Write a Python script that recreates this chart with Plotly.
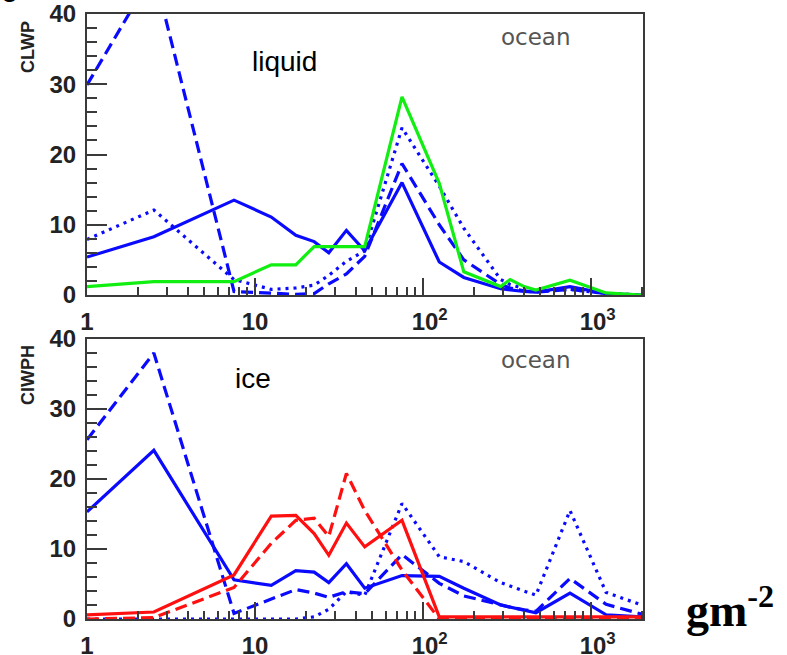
import math
import plotly.graph_objects as go

W, H = 787, 655

# ---------------- data ----------------
x_bins = [1, 2.5, 7.5, 12.5, 17.5, 22.5, 27.5, 35, 45, 75, 125, 175, 290, 330, 400, 470, 750, 1230, 2000]

# liquid (CLWP), ocean
clwp_blue_solid = [5.4, 8.3, 13.5, 11.1, 8.5, 7.6, 6.0, 9.2, 6.3, 16.0, 4.7, 2.5, 0.9, 0.7, 0.5, 0.4, 1.2, 0.2, 0.0]
clwp_blue_dash = [29.9, 46.0, 0.5, 0.2, 0.1, 0.2, 1.6, 3.0, 5.5, 18.7, 10.0, 5.0, 1.5, 1.0, 0.6, 0.4, 0.8, 0.2, 0.0]
clwp_blue_dot = [7.9, 12.1, 2.2, 0.8, 1.0, 1.4, 2.8, 4.8, 6.3, 23.8, 15.5, 9.5, 2.2, 1.5, 0.9, 0.5, 0.8, 0.2, 0.0]
clwp_green = [1.2, 1.9, 1.9, 4.3, 4.3, 6.9, 6.9, 6.9, 6.9, 28.2, 15.9, 3.3, 1.2, 2.2, 1.2, 0.7, 2.1, 0.3, 0.0]

# ice (CIWPH), ocean
ciwp_blue_solid = [15.3, 24.1, 5.6, 4.8, 6.9, 6.7, 5.2, 7.9, 4.4, 6.2, 6.1, 4.4, 2.0, 1.7, 1.3, 0.9, 3.7, 0.6, 0.3]
ciwp_blue_dash = [25.6, 38.0, 0.8, 2.8, 4.2, 3.7, 3.1, 3.9, 3.6, 9.2, 5.1, 3.3, 2.0, 1.7, 1.3, 1.1, 5.8, 2.1, 0.7]
ciwp_blue_dot = [0.0, 0.0, 0.0, 0.0, 0.0, 0.3, 1.4, 3.9, 3.4, 16.5, 8.9, 8.2, 5.2, 4.7, 4.0, 3.4, 15.5, 3.8, 2.0]
ciwp_red_solid = [0.6, 1.0, 6.3, 14.7, 14.8, 12.2, 9.1, 13.7, 10.3, 14.1, 0.3, 0.3, 0.3, 0.3, 0.3, 0.3, 0.3, 0.3, 0.3]
ciwp_red_dash = [0.0, 0.2, 4.5, 10.8, 14.1, 14.4, 11.8, 20.8, 15.5, 7.0, 0.0, 0.0, 0.0, 0.0, 0.0, 0.0, 0.0, 0.0, 0.0]

x_tickvals = [1, 10, 100, 1000]
x_ticktext = ["1", "10", "&nbsp;&nbsp;10<sup>2</sup>", "&nbsp;&nbsp;10<sup>3</sup>"]
y_tickvals = [0, 10, 20, 30, 40]
x_minor = [v * m for v in (1, 10, 100, 1000) for m in range(2, 10) if v * m <= 2040]

BLUE = "#0a0aff"
GREEN = "#11ee11"
RED = "#ff1010"
DASH = "12px,6px"
DOT = "3px,5px"

fig = go.Figure()

def add(y, color, dash, xa, ya):
    fig.add_trace(go.Scatter(x=x_bins, y=y, mode="lines", xaxis=xa, yaxis=ya,
                             line=dict(color=color, width=3.2, dash=dash),
                             showlegend=False, hoverinfo="skip"))

add(clwp_blue_dot, BLUE, DOT, "x", "y")
add(clwp_blue_dash, BLUE, DASH, "x", "y")
add(clwp_blue_solid, BLUE, "solid", "x", "y")
add(clwp_green, GREEN, "solid", "x", "y")

add(ciwp_blue_dot, BLUE, DOT, "x2", "y2")
add(ciwp_blue_dash, BLUE, DASH, "x2", "y2")
add(ciwp_blue_solid, BLUE, "solid", "x2", "y2")
add(ciwp_red_dash, RED, DASH, "x2", "y2")
add(ciwp_red_solid, RED, "solid", "x2", "y2")

def px(xp):
    return xp / W

def py(yp):
    return 1 - yp / H

xdom = [px(87), px(643)]
tickfont = dict(family="Liberation Sans, Arial", size=24, color="#222", weight="bold")
AXC = "#3a3a3a"

def xaxis(anchor):
    return dict(domain=xdom, anchor=anchor, type="log", range=[0, math.log10(2040)],
                tickmode="array", tickvals=x_tickvals, ticktext=x_ticktext,
                ticks="inside", ticklen=17, tickwidth=2, tickcolor=AXC,
                minor=dict(tickvals=x_minor, ticks="inside", ticklen=8, tickwidth=2, tickcolor=AXC),
                showline=True, linecolor=AXC, linewidth=2, mirror=True, automargin=False,
                showgrid=False, zeroline=False, tickfont=tickfont, ticklabelstandoff=4)

def yaxis(anchor, dom):
    return dict(domain=dom, anchor=anchor, range=[0, 40],
                tickmode="array", tickvals=y_tickvals,
                ticks="inside", ticklen=20, tickwidth=2, tickcolor=AXC,
                minor=dict(dtick=2, tick0=0, ticks="inside", ticklen=10, tickwidth=2, tickcolor=AXC),
                showline=True, linecolor=AXC, linewidth=2, mirror=True, automargin=False,
                showgrid=False, zeroline=False, tickfont=tickfont, ticklabelstandoff=4)

fig.update_layout(
    width=W, height=H, autosize=False,
    margin=dict(l=0, r=0, t=0, b=0),
    paper_bgcolor="white", plot_bgcolor="white",
    xaxis=xaxis("y"),
    yaxis=yaxis("x", [py(295), py(14)]),
    xaxis2=xaxis("y2"),
    yaxis2=yaxis("x2", [py(619), py(339)]),
)

def ann(text, xp, yp, size, family="Liberation Sans, Arial", color="black", weight="normal",
        angle=0, xanchor="center"):
    fig.add_annotation(text=text, x=px(xp), y=py(yp), xref="paper", yref="paper",
                       xanchor=xanchor, yanchor="middle", showarrow=False, textangle=angle,
                       font=dict(family=family, size=size, color=color, weight=weight))

ann("CLWP", 28, 47, 18, weight="bold", color="#222", angle=-90)
ann("CIWPH", 28, 375, 18, weight="bold", color="#222", angle=-90)
ann("liquid", 284, 62, 28)
ann("ice", 253, 378, 28)
ann("ocean", 536, 37, 23, family="DejaVu Sans", color="#555")
ann("ocean", 536, 360, 23, family="DejaVu Sans", color="#555")
ann("gm<sup>-2</sup>", 684, 607, 46, family="Liberation Serif, Times New Roman", weight="bold",
    xanchor="left")
ann("c", 9, -9, 30, weight="bold")

fig.write_html("out.html", config={"displayModeBar": False},
               post_script="document.body.style.margin='0';document.body.style.overflow='hidden';")
